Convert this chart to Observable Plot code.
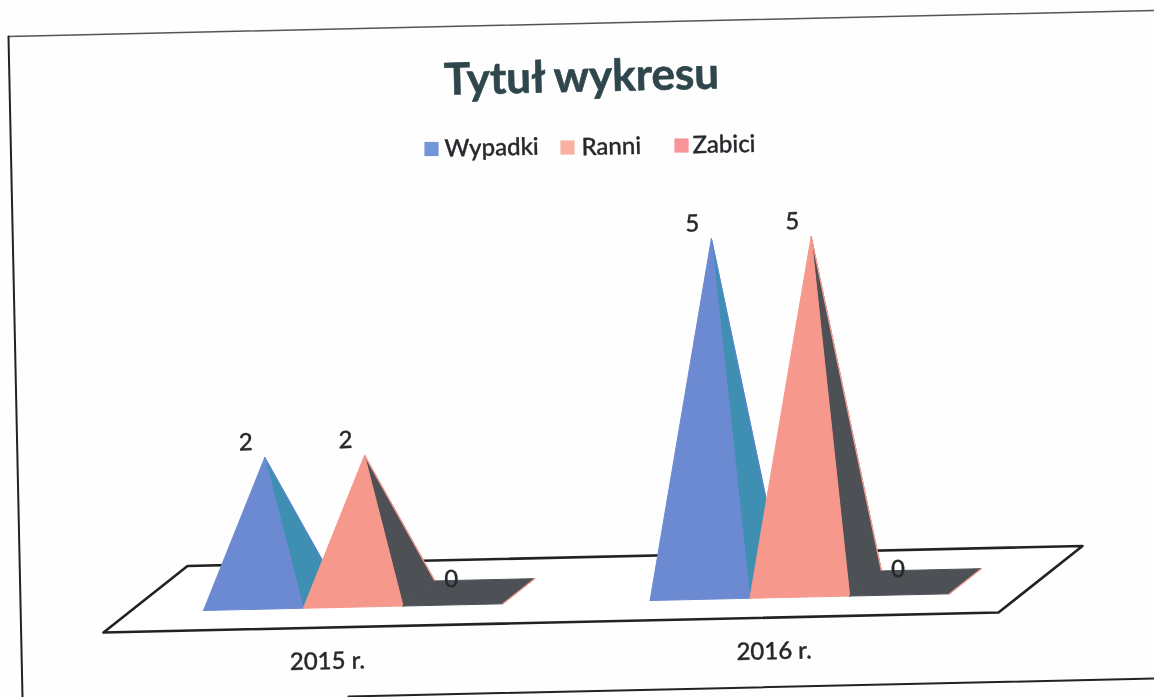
<!DOCTYPE html>
<html><head><meta charset="utf-8">
<script src="https://cdn.jsdelivr.net/npm/d3@7"></script>
<script src="https://cdn.jsdelivr.net/npm/@observablehq/plot@0.6"></script>
<style>html,body{margin:0;padding:0;background:#fefefe}svg{display:block;filter:blur(.45px)}</style>
</head><body><div id="chart"></div>
<script>
const categories = ["2015 r.", "2016 r."];
const seriesNames = ["Wypadki", "Ranni", "Zabici"];
const wypadki = [2, 5];
const ranni = [2, 5];
const zabici = [0, 0];
const chartTitle = "Tytuł wykresu";

const seriesValues = [wypadki, ranni, zabici];
const W = 1154, H = 697, TILT = -1.3;
const font = "Lato, Carlito, 'Open Sans', sans-serif";
const ink = "#26282b";
const fronts = ["#6c8ad2", "#f6988c", "#f6988c"];
const sides = ["#3f8fb2", "#4d5055", "#4d5055"];
const edges = ["#5a86d0", "#f79d92", "#f79d92"];
const swatches = ["#7393da", "#f9b1a4", "#f9939a"];

// oblique projection of the 3-D floor onto the tilted sheet
const origin = [103, 632], along = [895, -20], deep = [84, -66.5];
const groupStart = [0.083, 0.582], slot = 0.1115, baseFront = 0.306, baseBack = 0.684;
const unit = 69.6, lean = -4.5;
const P = (a, d, v = 0, dx = 0) => ({
  x: origin[0] + a * along[0] + d * deep[0] + dx,
  y: origin[1] + a * along[1] + d * deep[1] - v * unit
});
const poly = pts => [...pts, pts[0]];
const face = (pts, fill, stroke = fill, sw = 1) =>
  Plot.line(poly(pts), {x: "x", y: "y", fill, stroke, strokeWidth: sw, curve: "linear"});
const edge = (pts, stroke, sw = 1.2) =>
  Plot.line(pts, {x: "x", y: "y", stroke, strokeWidth: sw, curve: "linear"});

const marks = [];

// scanned page frame
const frameLines = [
  {pts: [[8, 36], [1154, 10]], w: 1.5, c: "#555"},
  {pts: [[8, 36], [22, 697]], w: 2, c: "#222"},
  {pts: [[348, 696], [1154, 678]], w: 2, c: "#222"}
];
for (const f of frameLines)
  marks.push(Plot.line(f.pts, {x: d => d[0], y: d => d[1], stroke: f.c, strokeWidth: f.w}));

// floor
marks.push(face([P(0, 0), P(1, 0), P(1, 1), P(0, 1)], "#fff", "#222", 2.6));

// pyramids
categories.forEach((cat, g) => {
  seriesNames.forEach((name, s) => {
    const v = seriesValues[s][g], a0 = groupStart[g] + s * slot, a1 = a0 + slot;
    const fl = P(a0, baseFront), fr = P(a1, baseFront), br = P(a1, baseBack), bl = P(a0, baseBack);
    if (v === 0) {
      marks.push(face([fl, fr, br, bl], sides[s]));
      marks.push(edge([fr, br], edges[s], 1.2));
    } else {
      const apex = P((a0 + a1) / 2, (baseFront + baseBack) / 2, v, lean);
      marks.push(face([fr, br, apex], sides[s]));
      marks.push(edge([br, apex], edges[s], 1.3));
      marks.push(face([fl, fr, apex], fronts[s]));
    }
  });
});

// data labels
const labelRows = categories.flatMap((cat, g) => seriesNames.map((name, s) => {
  const v = seriesValues[s][g], a = groupStart[g] + (s + .5) * slot;
  const p = P(a, (baseFront + baseBack) / 2, v, lean);
  return {x: p.x + [-19, -19, -13][s], y: p.y - (v ? 15 : 13), t: String(v)};
}));
marks.push(Plot.text(labelRows, {x: "x", y: "y", text: "t", fontSize: 24, fontWeight: 500, fill: ink, stroke: ink, strokeWidth: .3, fontFamily: font, rotate: TILT}));

// category labels
const catRows = categories.map((cat, g) => {
  const p = P(groupStart[g] + 1.5 * slot, 0);
  return {x: p.x, y: p.y + 34, t: cat};
});
marks.push(Plot.text(catRows, {x: "x", y: "y", text: "t", fontSize: 24, fontWeight: 500, fill: ink, stroke: ink, strokeWidth: .35, fontFamily: font, rotate: TILT}));

// title
marks.push(Plot.text([chartTitle], {x: () => 581, y: () => 77, text: d => d, fontSize: 44, fontWeight: 700, fill: "#2f474c", stroke: "#2f474c", strokeWidth: .6, fontFamily: font, rotate: TILT}));

// legend
const legendSwatchX = [431, 567, 681], legendTextX = [444, 581, 692], legendY = [148.5, 147, 145];
const legendRows = seriesNames.map((name, i) => ({name, sx: legendSwatchX[i], tx: legendTextX[i], y: legendY[i], c: swatches[i]}));
marks.push(Plot.dot(legendRows, {x: "sx", y: "y", symbol: "square", r: 8, fill: d => d.c}));
marks.push(Plot.text(legendRows, {x: "tx", y: "y", text: "name", textAnchor: "start", fontSize: 24, fontWeight: 500, fill: ink, stroke: ink, strokeWidth: .35, fontFamily: font, rotate: TILT}));

const chart = Plot.plot({
  width: W, height: H, margin: 0,
  x: {domain: [0, W], range: [0, W], axis: null},
  y: {domain: [H, 0], range: [H, 0], axis: null},
  color: {type: "identity"},
  style: {background: "#fefefe"},
  marks
});
document.getElementById("chart").append(chart);
</script></body></html>
